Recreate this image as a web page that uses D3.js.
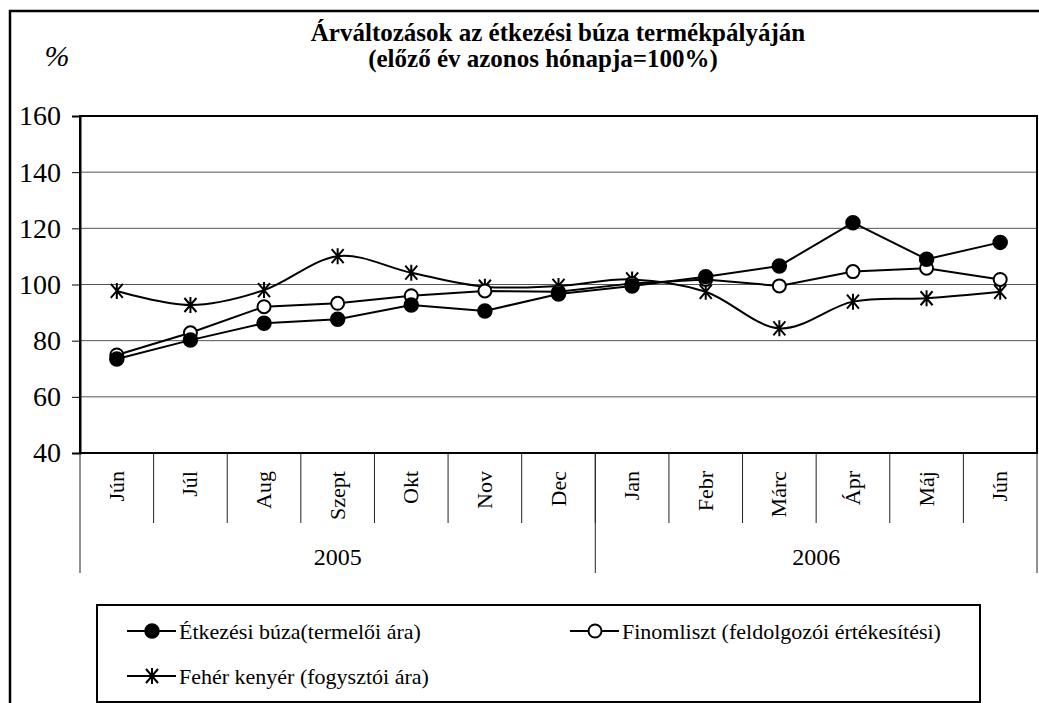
<!DOCTYPE html>
<html>
<head>
<meta charset="utf-8">
<script src="https://cdn.jsdelivr.net/npm/d3@7"></script>
</head>
<body style="margin:0;background:#fff">
<div id="chart"></div>
<script>
// size of the page
var width = 1039;
var height = 703;
var serif = "Liberation Serif";

// chart data
var months = ["Jún", "Júl", "Aug", "Szept", "Okt", "Nov", "Dec", "Jan", "Febr", "Márc", "Ápr", "Máj", "Jún"];
var years = ["2005", "2006"];
var yearMonths = [7, 6]; // how many months belong to each year
var buza = [73.5, 80.2, 86.2, 87.6, 92.7, 90.6, 96.6, 99.5, 102.8, 106.6, 122.0, 109.0, 115.0];
var liszt = [74.9, 82.8, 92.1, 93.3, 96.0, 97.7, 97.4, 100.4, 101.8, 99.5, 104.6, 105.8, 101.8];
var kenyer = [97.7, 92.7, 98.0, 110.1, 104.2, 99.2, 99.5, 101.8, 97.4, 84.4, 93.9, 95.1, 97.4];
var yTicks = [40, 60, 80, 100, 120, 140, 160];
var seriesNames = ["Étkezési búza(termelői ára)", "Finomliszt (feldolgozói értékesítési)", "Fehér kenyér (fogysztói ára)"];

var plot = { left: 80, right: 1037, top: 116, bottom: 453 };

var svg = d3.select("#chart")
  .append("svg")
  .attr("width", width)
  .attr("height", height)
  .attr("font-family", serif);

// little helper so every label gets the serif font
function label(sel, size) {
  return sel.attr("font-family", serif).style("font-family", serif)
    .style("font-size", size + "px").style("fill", "#000");
}

// outer frame (right and bottom run off the page)
svg.append("rect")
  .attr("x", 10).attr("y", 11)
  .attr("width", 1045).attr("height", 710)
  .style("fill", "none").style("stroke", "#000").style("stroke-width", 2.5);

// titles
label(svg.append("text"), 25)
  .attr("x", 558).attr("y", 41)
  .attr("text-anchor", "middle")
  .style("font-weight", "bold")
  .text("Árváltozások az étkezési búza termékpályáján");
label(svg.append("text"), 25)
  .attr("x", 543).attr("y", 67)
  .attr("text-anchor", "middle")
  .style("font-weight", "bold")
  .text("(előző év azonos hónapja=100%)");
label(svg.append("text"), 30)
  .attr("x", 57).attr("y", 66)
  .attr("text-anchor", "middle")
  .style("font-style", "italic")
  .text("%");

// scales
var x = d3.scaleBand()
  .domain(d3.range(months.length))
  .range([plot.left, plot.right]);

var y = d3.scaleLinear()
  .domain([40, 160])
  .range([plot.bottom, plot.top]);

// gridlines
svg.append("g")
  .selectAll("line")
  .data(yTicks.slice(1, -1))
  .enter()
  .append("line")
  .attr("x1", plot.left).attr("x2", plot.right)
  .attr("y1", d => y(d)).attr("y2", d => y(d))
  .style("stroke", "#555").style("stroke-width", 1);

// plot border
svg.append("rect")
  .attr("x", plot.left).attr("y", plot.top)
  .attr("width", plot.right - plot.left).attr("height", plot.bottom - plot.top)
  .style("fill", "none").style("stroke", "#000").style("stroke-width", 2);

// y axis
var yAxis = svg.append("g")
  .attr("transform", "translate(" + plot.left + ",0)")
  .call(d3.axisLeft(y).tickValues(yTicks).tickSize(8).tickPadding(11));
yAxis.attr("font-family", serif);
yAxis.select(".domain").style("stroke", "#000").style("stroke-width", 2);
yAxis.selectAll(".tick line").style("stroke", "#000");
label(yAxis.selectAll(".tick text"), 28);

// month separators
svg.append("g")
  .selectAll("line")
  .data(d3.range(1, months.length))
  .enter()
  .append("line")
  .attr("x1", d => x(d)).attr("x2", d => x(d))
  .attr("y1", plot.bottom).attr("y2", 523)
  .style("stroke", "#222").style("stroke-width", 1);

// month labels
label(svg.append("g")
  .selectAll("text")
  .data(months)
  .enter()
  .append("text"), 22)
  .attr("transform", (d, i) => "translate(" + (x(i) + x.bandwidth() / 2 + 7) + ",471) rotate(-90)")
  .attr("text-anchor", "end")
  .text(d => d);

// year separators and labels
var yearStart = [0];
yearMonths.forEach(function(n, i) { yearStart.push(yearStart[i] + n); });
svg.append("g")
  .selectAll("line")
  .data(yearStart)
  .enter()
  .append("line")
  .attr("x1", d => d < months.length ? x(d) : plot.right)
  .attr("x2", d => d < months.length ? x(d) : plot.right)
  .attr("y1", plot.bottom).attr("y2", 573)
  .style("stroke", "#222").style("stroke-width", 1);

label(svg.append("g")
  .selectAll("text")
  .data(years)
  .enter()
  .append("text"), 24)
  .attr("x", function(d, i) {
    var a = x(yearStart[i]);
    var b = yearStart[i + 1] < months.length ? x(yearStart[i + 1]) : plot.right;
    return (a + b) / 2;
  })
  .attr("y", 565)
  .attr("text-anchor", "middle")
  .text(d => d);

// markers
function drawMarker(g, type) {
  if (type === "filled") {
    g.append("circle").attr("r", 7).style("fill", "#000").style("stroke", "#000").style("stroke-width", 1.5);
  } else if (type === "open") {
    g.append("circle").attr("r", 6.5).style("fill", "#fff").style("stroke", "#000").style("stroke-width", 2);
  } else {
    g.append("path")
      .attr("d", "M-6,-7L6,7M6,-7L-6,7M0,-8L0,8")
      .style("fill", "none").style("stroke", "#000").style("stroke-width", 2);
  }
}

var cx = i => x(i) + x.bandwidth() / 2;

var straight = d3.line().x((d, i) => cx(i)).y(d => y(d));
var smooth = d3.line().x((d, i) => cx(i)).y(d => y(d)).curve(d3.curveCardinal.tension(0));

var series = [
  { values: kenyer, marker: "star", line: smooth },
  { values: liszt, marker: "open", line: straight },
  { values: buza, marker: "filled", line: straight }
];

series.forEach(function(s) {
  svg.append("path")
    .attr("d", s.line(s.values))
    .style("fill", "none").style("stroke", "#000").style("stroke-width", 2);
  svg.append("g")
    .selectAll("g")
    .data(s.values)
    .enter()
    .append("g")
    .attr("transform", (d, i) => "translate(" + cx(i) + "," + y(d) + ")")
    .each(function() { drawMarker(d3.select(this), s.marker); });
});

// legend
svg.append("rect")
  .attr("x", 97).attr("y", 605)
  .attr("width", 883).attr("height", 97)
  .style("fill", "#fff").style("stroke", "#000").style("stroke-width", 2);

var legendItems = [
  { name: seriesNames[0], marker: "filled", x: 127, y: 631 },
  { name: seriesNames[1], marker: "open", x: 570, y: 631 },
  { name: seriesNames[2], marker: "star", x: 127, y: 676 }
];

var legend = svg.append("g")
  .selectAll("g")
  .data(legendItems)
  .enter()
  .append("g")
  .attr("transform", d => "translate(" + d.x + "," + d.y + ")");

legend.append("line")
  .attr("x1", 0).attr("x2", 49)
  .style("stroke", "#000").style("stroke-width", 2);
legend.append("g")
  .attr("transform", "translate(25,0)")
  .each(function(d) { drawMarker(d3.select(this), d.marker); });
label(legend.append("text"), 22)
  .attr("x", 52).attr("dy", "0.35em")
  .text(d => d.name);
</script>
</body>
</html>
